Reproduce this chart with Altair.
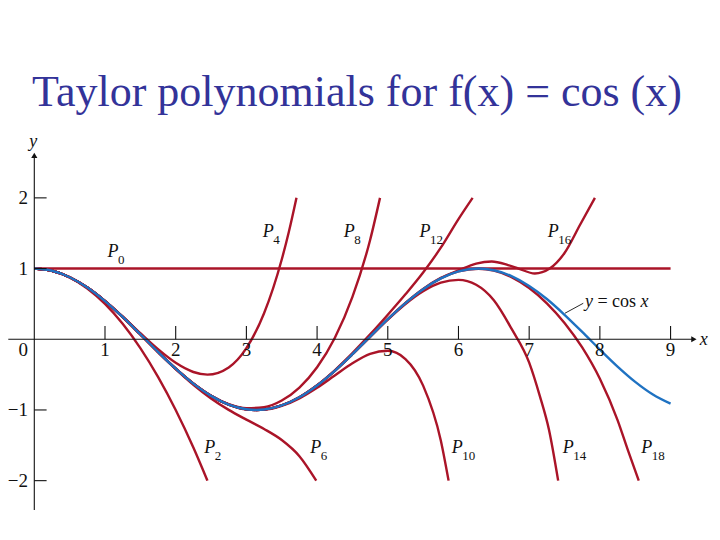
import altair as alt
import pandas as pd

# ---------------- data ----------------
cos_x = [0, 0.25, 0.5, 0.75, 1, 1.25, 1.5, 1.75, 2, 2.25, 2.5, 2.75, 3, 3.1416, 3.25, 3.5,
         3.75, 4, 4.25, 4.5, 4.75, 5, 5.25, 5.5, 5.75, 6, 6.2832, 6.5, 6.75, 7, 7.25, 7.5,
         7.75, 8, 8.25, 8.5, 8.75, 9]
cos_y = [1, 0.9689, 0.8776, 0.7317, 0.5403, 0.3153, 0.0707, -0.1782, -0.4161, -0.6282,
         -0.8011, -0.9243, -0.99, -1.0, -0.9941, -0.9365, -0.8206, -0.6536, -0.4461, -0.2108,
         0.0376, 0.2837, 0.5121, 0.7087, 0.8612, 0.9602, 1.0, 0.9766, 0.893, 0.7539,
         0.5693, 0.3466, 0.1038, -0.1455, -0.3857, -0.602, -0.7808, -0.9111]

p0_x = [0, 9]
p0_y = [1, 1]

p2_x = [0, 0.25, 0.5, 0.75, 1, 1.25, 1.5, 1.75, 2, 2.25, 2.449]
p2_y = [1, 0.9688, 0.875, 0.7188, 0.5, 0.2188, -0.125, -0.5313, -1.0, -1.5313, -2.0]

p4_x = [0, 0.25, 0.5, 0.75, 1, 1.25, 1.5, 1.75, 2, 2.25, 2.449, 2.75, 3, 3.25, 3.5, 3.6, 3.708]
p4_y = [1, 0.9689, 0.8776, 0.7319, 0.5417, 0.3205, 0.0859, -0.1405, -0.3333, -0.4629, -0.5,
        -0.3979, -0.125, 0.3673, 1.1276, 1.518, 2.0]

p6_x = [0, 0.25, 0.5, 0.75, 1, 1.25, 1.5, 1.75, 2, 2.25, 2.5, 2.75, 3, 3.25, 3.5, 3.75, 3.988]
p6_y = [1, 0.9689, 0.8776, 0.7317, 0.5403, 0.3152, 0.0701, -0.1804, -0.4222, -0.6431, -0.8365,
        -0.9986, -1.1375, -1.2694, -1.4256, -1.654, -2.0]

p8_x = [0, 0.25, 0.5, 0.75, 1, 1.25, 1.5, 1.75, 2, 2.25, 2.5, 2.75, 3, 3.25, 3.5, 3.75, 4,
        4.25, 4.5, 4.75, 4.89]
p8_y = [1, 0.9689, 0.8776, 0.7317, 0.5403, 0.3153, 0.0707, -0.1782, -0.4159, -0.6268, -0.7987,
        -0.9175, -0.9748, -0.9607, -0.8671, -0.684, -0.3968, 0.0178, 0.5983, 1.4043, 2.0]

p10_x = [0, 0.25, 0.5, 0.75, 1, 1.25, 1.5, 1.75, 2, 2.25, 2.5, 2.75, 3, 3.25, 3.5, 3.75, 4,
         4.25, 4.5, 4.75, 5, 5.25, 5.5, 5.75, 5.86]
p10_y = [1, 0.9689, 0.8776, 0.7317, 0.5403, 0.3153, 0.0707, -0.1782, -0.4162, -0.6277, -0.8013,
         -0.9243, -0.9911, -0.9969, -0.9431, -0.8355, -0.6858, -0.512, -0.34, -0.2071, -0.1627,
         -0.2793, -0.6555, -1.4318, -2.0]

p12_x = [0, 0.25, 0.5, 0.75, 1, 1.25, 1.5, 1.75, 2, 2.25, 2.5, 2.75, 3, 3.1416, 3.25, 3.5,
         3.75, 4, 4.25, 4.5, 4.75, 5, 5.25, 5.5, 5.75, 6.0, 6.2]
p12_y = [1, 0.9689, 0.8776, 0.7317, 0.5403, 0.3153, 0.0707, -0.1782, -0.4161, -0.6282, -0.8011,
         -0.9243, -0.99, -1.0, -0.9941, -0.9365, -0.8194, -0.6508, -0.4395, -0.1961, 0.0683,
         0.347, 0.636, 0.9441, 1.2952, 1.70, 2.0]

p14_x = [0, 0.25, 0.5, 0.75, 1, 1.25, 1.5, 1.75, 2, 2.25, 2.5, 2.75, 3, 3.1416, 3.25, 3.5,
         3.75, 4, 4.25, 4.5, 4.75, 5, 5.25, 5.5, 5.75, 6.0, 6.25, 6.5, 6.75, 7.0, 7.15, 7.28, 7.41]
p14_y = [1, 0.9689, 0.8776, 0.7317, 0.5403, 0.3153, 0.0707, -0.1782, -0.4161, -0.6282, -0.8011,
         -0.9243, -0.99, -1.0, -0.9941, -0.9365, -0.8206, -0.6539, -0.4467, -0.2121, 0.0342,
         0.277, 0.4974, 0.6782, 0.7998, 0.8397, 0.7708, 0.5517, 0.15, -0.33, -0.8, -1.28, -2.0]

p16_x = [0, 0.25, 0.5, 0.75, 1, 1.25, 1.5, 1.75, 2, 2.25, 2.5, 2.75, 3, 3.1416, 3.25, 3.5,
         3.75, 4, 4.25, 4.5, 4.75, 5, 5.25, 5.5, 5.75, 6.0, 6.25, 6.47, 6.7, 6.85, 7.08, 7.29,
         7.5, 7.72, 7.93]
p16_y = [1, 0.9689, 0.8776, 0.7317, 0.5403, 0.3153, 0.0707, -0.1782, -0.4161, -0.6282, -0.8011,
         -0.9243, -0.99, -1.0, -0.9941, -0.9365, -0.8206, -0.6536, -0.4461, -0.2108, 0.0376,
         0.2837, 0.5133, 0.7117, 0.868, 0.9745, 1.07, 1.10, 1.05, 1.0, 0.93, 1.0, 1.22, 1.62, 2.0]

p18_x = [0, 0.25, 0.5, 0.75, 1, 1.25, 1.5, 1.75, 2, 2.25, 2.5, 2.75, 3, 3.1416, 3.25, 3.5,
         3.75, 4, 4.25, 4.5, 4.75, 5, 5.25, 5.5, 5.75, 6, 6.2832, 6.5, 6.75, 7, 7.25, 7.5,
         7.75, 8, 8.25, 8.4, 8.55]
p18_y = [1, 0.9689, 0.8776, 0.7317, 0.5403, 0.3153, 0.0707, -0.1782, -0.4161, -0.6282, -0.8011,
         -0.9243, -0.99, -1.0, -0.9941, -0.9365, -0.8206, -0.6536, -0.4461, -0.2108, 0.0376,
         0.2837, 0.5121, 0.7087, 0.8612, 0.9602, 0.997, 0.97, 0.879, 0.7248, 0.5089, 0.2307,
         -0.1162, -0.5597, -1.1435, -1.58, -2.0]

# label anchors for the P_n annotations (data units, centre of the "P")
plab_sub = ["0", "2", "4", "6", "8", "10", "12", "14", "16", "18"]
plab_x = [1.113, 2.481, 3.31, 3.98, 4.455, 5.983, 5.526, 7.553, 7.341, 8.662]
plab_y = [1.239, -1.542, 1.515, -1.542, 1.515, -1.542, 1.515, -1.542, 1.515, -1.542]

x_ticks = [1, 2, 3, 4, 5, 6, 7, 8, 9]
x_tick_labels = ["1", "2", "3", "4", "5", "6", "7", "8", "9"]
y_ticks = [2, 1, -1, -2]
y_tick_labels = ["2", "1", "\u22121", "\u22122"]

TITLE = "Taylor polynomials for f(x) = cos (x)"

# ---------------- styling ----------------
RED = "#aa1428"
BLUE = "#1f72c2"
INK = "#111111"
SERIF = "Liberation Serif"
PX = 70.7  # pixels per data unit (same on both axes)

xs = alt.Scale(domain=[-0.372, 9.586], nice=False, zero=False)
ys = alt.Scale(domain=[-2.698, 2.96], nice=False, zero=False)


def X(f="x"):
    return alt.X(f + ":Q", scale=xs, axis=None)


def Y(f="y"):
    return alt.Y(f + ":Q", scale=ys, axis=None)


# ---------------- tables ----------------
polys = [("P0", p0_x, p0_y), ("P2", p2_x, p2_y), ("P4", p4_x, p4_y), ("P6", p6_x, p6_y),
         ("P8", p8_x, p8_y), ("P10", p10_x, p10_y), ("P12", p12_x, p12_y),
         ("P14", p14_x, p14_y), ("P16", p16_x, p16_y), ("P18", p18_x, p18_y)]
poly_df = pd.concat([pd.DataFrame({"curve": n, "x": xx, "y": yy}) for n, xx, yy in polys],
                    ignore_index=True)
cos_df = pd.DataFrame({"x": cos_x, "y": cos_y})

axes_df = pd.DataFrame({"x": [-0.368, 0.0], "x2": [9.33, 0.0],
                        "y": [0.0, -2.414], "y2": [0.0, 2.6]})
arrow_df = pd.DataFrame({"x": [9.33, 0.0], "y": [0.0, 2.6],
                         "shape": ["triangle-right", "triangle-up"]})

xt_df = pd.DataFrame({"x": x_ticks, "y": [0.0] * len(x_ticks),
                      "y2": [13.3 / PX] * len(x_ticks), "label": x_tick_labels})
yt_df = pd.DataFrame({"y": y_ticks, "x": [0.0] * len(y_ticks),
                      "x2": [12.3 / PX] * len(y_ticks), "label": y_tick_labels})
zero_df = pd.DataFrame({"x": [-0.156], "y": [-0.153], "label": ["0"]})

plab_df = pd.DataFrame({"x": plab_x, "y": plab_y, "t": ["P"] * len(plab_x)})
psub_df = pd.DataFrame({"x": [v + 5.0 / PX for v in plab_x],
                        "y": [v - 8.0 / PX for v in plab_y], "t": plab_sub})

coslab_df = pd.DataFrame({"x": [7.79, 7.966, 8.574], "y": [0.532] * 3,
                          "t": ["y", "= cos", "x"], "style": ["italic", "normal", "italic"]})
leader_df = pd.DataFrame({"x": [7.506], "x2": [7.765], "y": [0.368], "y2": [0.509]})
axlab_df = pd.DataFrame({"x": [9.47, -0.014], "y": [-0.01, 2.786], "t": ["x", "y"]})

# ---------------- layers ----------------
poly_layer = alt.Chart(poly_df).mark_line(
    interpolate="monotone", color=RED, strokeWidth=2.4
).encode(x=X(), y=Y(), detail="curve:N")

cos_layer = alt.Chart(cos_df).mark_line(
    interpolate="monotone", color=BLUE, strokeWidth=2.4
).encode(x=X(), y=Y())

axes_layer = alt.Chart(axes_df).mark_rule(color=INK, strokeWidth=1.1).encode(
    x=X(), x2="x2:Q", y=Y(), y2="y2:Q")

arrow_layer = alt.Chart(arrow_df).mark_point(filled=True, color=INK, size=38, opacity=1).encode(
    x=X(), y=Y(), shape=alt.Shape("shape:N", scale=None))

xtick_layer = alt.Chart(xt_df).mark_rule(color=INK, strokeWidth=1.1).encode(
    x=X(), y=Y(), y2="y2:Q")
ytick_layer = alt.Chart(yt_df).mark_rule(color=INK, strokeWidth=1.1).encode(
    x=X(), x2="x2:Q", y=Y())

xlab_layer = alt.Chart(xt_df).mark_text(
    font=SERIF, fontSize=19, color=INK, align="center", baseline="middle", dy=10.8
).encode(x=X(), y=Y(), text="label:N")
ylab_layer = alt.Chart(yt_df).mark_text(
    font=SERIF, fontSize=19, color=INK, align="right", baseline="middle", dx=-6.3
).encode(x=X(), y=Y(), text="label:N")
zero_layer = alt.Chart(zero_df).mark_text(
    font=SERIF, fontSize=19, color=INK, align="center", baseline="middle"
).encode(x=X(), y=Y(), text="label:N")

plab_layer = alt.Chart(plab_df).mark_text(
    font=SERIF, fontSize=18, fontStyle="italic", color=INK, align="center", baseline="middle"
).encode(x=X(), y=Y(), text="t:N")
psub_layer = alt.Chart(psub_df).mark_text(
    font=SERIF, fontSize=13, color=INK, align="left", baseline="middle"
).encode(x=X(), y=Y(), text="t:N")

coslab_it = alt.Chart(coslab_df).transform_filter("datum.style == 'italic'").mark_text(
    font=SERIF, fontSize=18, fontStyle="italic", color=INK, align="left", baseline="middle"
).encode(x=X(), y=Y(), text="t:N")
coslab_rm = alt.Chart(coslab_df).transform_filter("datum.style == 'normal'").mark_text(
    font=SERIF, fontSize=18, color=INK, align="left", baseline="middle"
).encode(x=X(), y=Y(), text="t:N")
leader_layer = alt.Chart(leader_df).mark_rule(color=INK, strokeWidth=0.9).encode(
    x=X(), x2="x2:Q", y=Y(), y2="y2:Q")

axlab_layer = alt.Chart(axlab_df).mark_text(
    font=SERIF, fontSize=18, fontStyle="italic", color=INK, align="center", baseline="middle"
).encode(x=X(), y=Y(), text="t:N")

chart = alt.layer(
    poly_layer, cos_layer, axes_layer, arrow_layer, xtick_layer, ytick_layer,
    xlab_layer, ylab_layer, zero_layer, plab_layer, psub_layer,
    leader_layer, coslab_it, coslab_rm, axlab_layer
).properties(
    width=704,
    height=400,
    padding={"left": 0, "top": 122, "right": 0, "bottom": 0},
    autosize=alt.AutoSizeParams(type="none"),
    title=alt.TitleParams(
        text=TITLE, font=SERIF, fontSize=44, fontWeight="normal", color="#333399",
        anchor="middle", baseline="alphabetic", offset=20, dy=40, dx=-3
    ),
).configure_view(strokeWidth=0)

chart.save("out.html", embed_options={"renderer": "svg", "actions": False})
